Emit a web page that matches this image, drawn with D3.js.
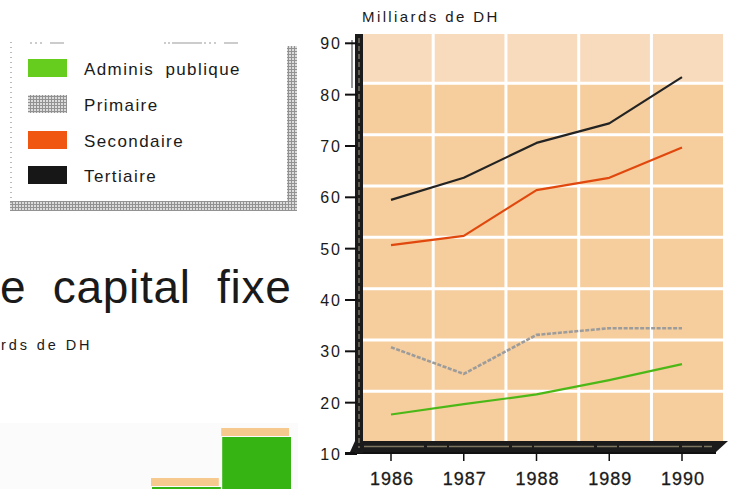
<!DOCTYPE html>
<html><head><meta charset="utf-8">
<script src="https://cdn.jsdelivr.net/npm/d3@7"></script>
<style>html,body{margin:0;padding:0;background:#fff;}svg{display:block;}</style>
</head><body>
<script>
// ---- data ----
const years = [1986, 1987, 1988, 1989, 1990];
const adminis = [17.7, 19.7, 21.6, 24.4, 27.5];
const primaire = [30.8, 25.6, 33.2, 34.5, 34.5];
const secondaire = [50.7, 52.5, 61.4, 63.8, 69.7];
const tertiaire = [59.5, 63.8, 70.6, 74.4, 83.4];
const yTicks = [10, 20, 30, 40, 50, 60, 70, 80, 90];
const xTickLabels = ["1986", "1987", "1988", "1989", "1990"];
const legendLabels = ["Adminis publique", "Primaire", "Secondaire", "Tertiaire"];
const unitLabel = "Milliards de DH";
const leftTitle = "e capital fixe";
const leftUnit = "rds de DH";
// partially visible bars of the neighbouring (cropped) chart
const partialCats = ["a", "b"];
const partialGreen = [7.3, 12.3];
const partialPeach = [8.2, 13.2];

const W = 732, H = 489;
const svg = d3.select("body").append("svg").attr("width", W).attr("height", H);
const defs = svg.append("defs");
const hatch = defs.append("pattern").attr("id", "hatch").attr("patternUnits", "userSpaceOnUse")
  .attr("width", 3).attr("height", 3);
hatch.append("rect").attr("width", 3).attr("height", 3).attr("fill", "#dcdcdc");
hatch.append("path").attr("d", "M0,0.5H3M0.5,0V3").attr("stroke", "#929292").attr("stroke-width", 1);

const font = "'Liberation Sans', Arial, Helvetica, sans-serif";

// ---- scales ----
const x = d3.scaleLinear().domain([1986, 1990]).range([391, 682]);
const y = d3.scaleLinear().domain([10, 90]).range([454, 43.3]);
const step = x(1987) - x(1986);

// ---- plot background ----
const plotL = 363, plotR = 723, plotT = 34, plotB = 441;
svg.append("rect").attr("x", plotL).attr("y", plotT).attr("width", plotR - plotL).attr("height", plotB - plotT)
  .attr("fill", "#f6cd9c");
svg.append("rect").attr("x", plotL).attr("y", plotT).attr("width", plotR - plotL).attr("height", y(80) - 11.3 - plotT)
  .attr("fill", "#f8dbbd");

// grid (white, offset for the perspective look)
svg.append("g").selectAll("line").data(yTicks.filter(v => v > 10 && v < 90)).join("line")
  .attr("x1", plotL).attr("x2", plotR)
  .attr("y1", d => y(d) - 11.3).attr("y2", d => y(d) - 11.3)
  .attr("stroke", "#ffffff").attr("stroke-width", 3);
svg.append("g").selectAll("line").data(years.slice(0, 4)).join("line")
  .attr("x1", d => x(d) + step * 0.58).attr("x2", d => x(d) + step * 0.58)
  .attr("y1", plotT).attr("y2", plotB)
  .attr("stroke", "#ffffff").attr("stroke-width", 3);

// ---- lines ----
const line = d3.line().x((d, i) => x(years[i])).y(d => y(d));
const series = [
  {vals: primaire, color: "#9c9c9c", w: 2.6, dash: "4 1.5"},
  {vals: adminis, color: "#4cb818", w: 2.2, dash: null},
  {vals: secondaire, color: "#e0480e", w: 2.2, dash: null},
  {vals: tertiaire, color: "#232323", w: 2.2, dash: null}
];
series.forEach(s => {
  svg.append("path").datum(s.vals).attr("d", line).attr("fill", "none")
    .attr("stroke", s.color).attr("stroke-width", s.w)
    .attr("stroke-dasharray", s.dash).attr("stroke-linejoin", "round");
});

// ---- floor & axes ----
svg.append("path").attr("d", `M355,${plotB}L728,${plotB}L716,452L350,452Z`).attr("fill", "#1b1b1b");
svg.append("path").attr("d", `M364,446.5L712,446.5`).attr("stroke", "#7d7560").attr("stroke-width", 1.5)
  .attr("stroke-dasharray", "60 3 20 2");
svg.append("line").attr("x1", 345).attr("x2", 716).attr("y1", 453).attr("y2", 453)
  .attr("stroke", "#111").attr("stroke-width", 2);
svg.append("rect").attr("x", 355).attr("y", 34).attr("width", 8).attr("height", 419).attr("fill", "#1b1b1b");
svg.append("line").attr("x1", 359).attr("x2", 359).attr("y1", 38).attr("y2", 448)
  .attr("stroke", "#8a8270").attr("stroke-width", 1.2).attr("stroke-dasharray", "5 3");
svg.append("line").attr("x1", 352).attr("x2", 352).attr("y1", 40).attr("y2", 88)
  .attr("stroke", "#333").attr("stroke-width", 1);

// y ticks
const yg = svg.append("g");
yg.selectAll("line").data(yTicks).join("line")
  .attr("x1", 345).attr("x2", 357).attr("y1", d => y(d)).attr("y2", d => y(d))
  .attr("stroke", "#111").attr("stroke-width", 2);
yg.selectAll("text").data(yTicks).join("text")
  .attr("x", 342).attr("y", d => y(d) + 6).attr("text-anchor", "end")
  .attr("font-family", font).attr("font-size", 16).attr("letter-spacing", 2).attr("fill", "#1a1a1a")
  .text(d => d);

// x ticks
const xg = svg.append("g");
xg.selectAll("line").data(years).join("line")
  .attr("x1", d => x(d)).attr("x2", d => x(d)).attr("y1", 453).attr("y2", 461)
  .attr("stroke", "#111").attr("stroke-width", 1.5);
xg.selectAll("text").data(years).join("text")
  .attr("x", d => x(d) + 1).attr("y", 485).attr("text-anchor", "middle")
  .attr("font-family", font).attr("font-size", 18).attr("letter-spacing", 1)
  .attr("fill", "#1a1a1a").attr("stroke", "#1a1a1a").attr("stroke-width", 0.3)
  .text((d, i) => xTickLabels[i]);

// unit label
svg.append("text").attr("x", 362).attr("y", 22).attr("font-family", font).attr("font-size", 15)
  .attr("letter-spacing", 2.4).attr("fill", "#1a1a1a").text(unitLabel);

// ---- legend ----
svg.append("rect").attr("x", 287).attr("y", 46).attr("width", 10).attr("height", 165).attr("fill", "url(#hatch)");
svg.append("rect").attr("x", 10).attr("y", 201).attr("width", 287).attr("height", 10).attr("fill", "url(#hatch)");
svg.append("line").attr("x1", 11).attr("x2", 11).attr("y1", 42).attr("y2", 205)
  .attr("stroke", "#777").attr("stroke-width", 1).attr("stroke-dasharray", "1 4");
svg.append("line").attr("x1", 30).attr("x2", 285).attr("y1", 43).attr("y2", 43)
  .attr("stroke", "#999").attr("stroke-width", 1).attr("stroke-dasharray", "2 3 2 3 2 8 14 100 2 2 2 2 30 2");
const swatchFill = ["#66cc1e", "url(#hatch)", "#f0560f", "#171717"];
const legY = [59, 95, 131, 166];
const lg = svg.append("g");
lg.selectAll("rect").data(legendLabels).join("rect")
  .attr("x", 28).attr("y", (d, i) => legY[i]).attr("width", 39).attr("height", 18)
  .attr("fill", (d, i) => swatchFill[i]);
lg.selectAll("text").data(legendLabels).join("text")
  .attr("x", 84).attr("y", (d, i) => legY[i] + 16)
  .attr("font-family", font).attr("font-size", 17).attr("letter-spacing", 1.4).attr("word-spacing", 5)
  .attr("fill", "#1a1a1a").text(d => d);

// ---- left title fragments ----
svg.append("text").attr("x", 0).attr("y", 303).attr("font-family", font).attr("font-size", 46)
  .attr("letter-spacing", 0.7).attr("word-spacing", 13).attr("fill", "#1a1a1a").text(leftTitle);
svg.append("text").attr("x", 1).attr("y", 350).attr("font-family", font)
  .attr("font-size", 14.5).attr("letter-spacing", 2.9).attr("fill", "#1a1a1a").text(leftUnit);

// ---- partial bars of neighbouring chart ----
svg.append("rect").attr("x", 0).attr("y", 423).attr("width", 298).attr("height", 66).attr("fill", "#fbfbfb");
const bx = d3.scaleBand().domain(partialCats).range([151, 290]).paddingInner(0.02);
const by = d3.scaleLinear().domain([0, 10]).range([560, 460]);
svg.append("g").selectAll("rect").data(partialCats).join("rect")
  .attr("x", d => bx(d)).attr("width", bx.bandwidth() - 1)
  .attr("y", (d, i) => by(partialPeach[i])).attr("height", 8).attr("fill", "#f6c98f");
svg.append("g").selectAll("rect").data(partialCats).join("rect")
  .attr("x", d => bx(d) + 1).attr("width", bx.bandwidth())
  .attr("y", (d, i) => by(partialGreen[i])).attr("height", (d, i) => by(0) - by(partialGreen[i]))
  .attr("fill", "#36b414");
</script>
</body></html>
